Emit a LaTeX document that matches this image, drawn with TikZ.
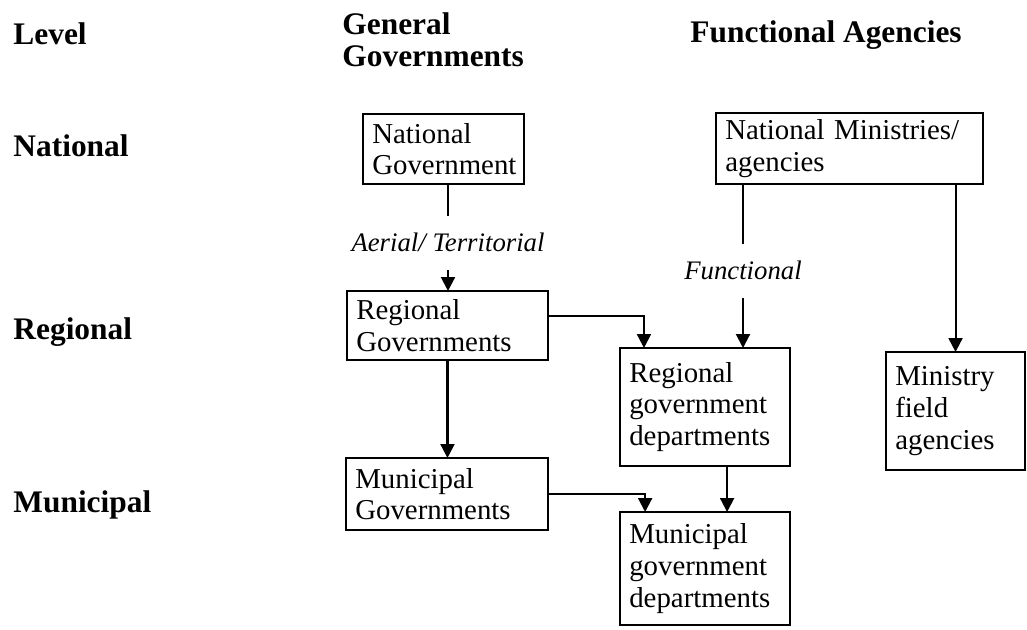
\documentclass[tikz,border=0pt]{standalone}
\usepackage{fontspec}
\setmainfont{Liberation Serif}
\usepackage{tikz}
\usetikzlibrary{arrows.meta,positioning,calc}
\newcommand{\boxfont}{\fontsize{12.4}{13.6}\selectfont}
\newcommand{\hdrfont}{\fontsize{13.5}{13.8}\selectfont\bfseries}
\newcommand{\lblfont}{\fontsize{11.5}{13}\selectfont\itshape}
\tikzset{
  govbox/.style={rectangle,draw,line width=.9pt,inner xsep=4pt,inner ysep=2pt,
                 outer sep=0pt,align=left,anchor=north west,font=\boxfont},
  hdr/.style={inner sep=0pt,anchor=base west,align=left,font=\hdrfont},
  lbl/.style={inner xsep=0pt,inner ysep=7.5pt,anchor=base,font=\lblfont},
  ln/.style={line width=.9pt},
  arr/.style={-{Triangle[length=6pt,width=6pt]},line width=.9pt},
}

\begin{document}
\begin{tikzpicture}[x=0.43pt,y=-0.43pt]
    \useasboundingbox (0,0) rectangle (1027,630);

    % Column and level headings
    \node[hdr] (level) at (13,45)  {Level};
    \node[hdr] (gen)   at (342,67) {General\\Governments};
    \node[hdr] (fun)   at (690,43) {Functional Agencies};
    \node[hdr] (nat)   at (13,157) {National};
    \node[hdr] (reg)   at (13,340) {Regional};
    \node[hdr] (mun)   at (13,512) {Municipal};

    % General governments
    \node[govbox,text width=61.2pt,minimum height=30.1pt]
          (natgov) at (363,114) {National\\Government};
    \node[govbox,text width=78.4pt,minimum height=29.7pt]
          (reggov) at (347,291) {Regional\\Governments};
    \node[govbox,text width=78.9pt,minimum height=31pt]
          (mungov) at (346,458) {Municipal\\Governments};

    % Functional agencies
    \node[govbox,text width=106.8pt,minimum height=30.5pt]
          (natmin) at (716,113) {National Ministries/\\agencies};
    \node[govbox,text width=65.1pt,minimum height=50.7pt]
          (regdep) at (620,348) {Regional\\government\\departments};
    \node[govbox,text width=65.1pt,minimum height=48.6pt]
          (mundep) at (620,512) {Municipal\\government\\departments};
    \node[govbox,text width=51.8pt,minimum height=50.7pt]
          (field)  at (886,352) {Ministry\\field\\agencies};

    % Link labels
    \node[lbl] (aerial) at (448,252) {Aerial/ Territorial};
    \node[lbl] (func)   at (743,280) {Functional};

    % Arrows
    \draw[ln]  (natgov.south -| aerial.north) -- (aerial.north);
    \draw[arr] (aerial.south) -- (aerial.south |- reggov.north);
    \draw[arr] (reggov.south) -- (reggov.south |- mungov.north);
    \draw[ln]  (natmin.south -| func.north) -- (func.north);
    \draw[arr] (func.south) -- (func.south |- regdep.north);
    \draw[arr] ([yshift=4pt]reggov.east) -| ([xshift=10.3pt]regdep.north west);
    \draw[arr] (mungov.east) -| ([xshift=10.8pt]mundep.north west);
    \draw[arr] ([xshift=9.5pt]regdep.south) -- ([xshift=9.5pt]mundep.north);
    \draw[arr] (field.north |- natmin.south) -- (field.north);
\end{tikzpicture}
\end{document}
